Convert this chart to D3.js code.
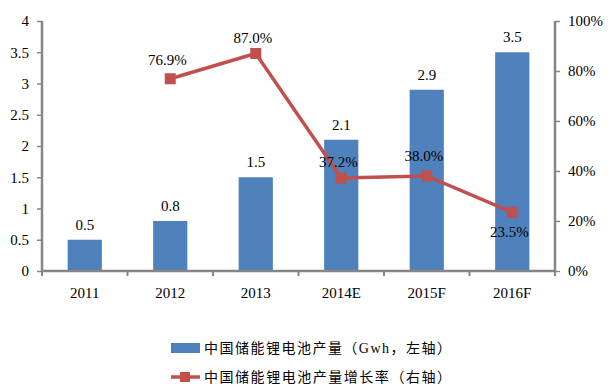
<!DOCTYPE html>
<html>
<head>
<meta charset="utf-8">
<script src="https://cdn.jsdelivr.net/npm/d3@7"></script>
<style>
body { margin: 0; background: #fff; }
text { font-family: "Liberation Serif", "Times New Roman", serif; fill: #000; }
.cjk { font-family: "Liberation Serif", "Noto Sans CJK SC", serif; }
</style>
</head>
<body>
<script>
var categories = ["2011", "2012", "2013", "2014E", "2015F", "2016F"];
var output = [0.5, 0.8, 1.5, 2.1, 2.9, 3.5];
var growth = [null, 76.9, 87.0, 37.2, 38.0, 23.5];
var leftTicks = [0, 0.5, 1, 1.5, 2, 2.5, 3, 3.5, 4];
var rightTicks = [0, 20, 40, 60, 80, 100];
var legendLabels = ["中国储能锂电池产量（Gwh，左轴）", "中国储能锂电池产量增长率（右轴）"];

var w = 611, h = 387;
var pLeft = 42, pRight = 555, pTop = 21, pBottom = 271;
var axisColor = "#868686", barColor = "#4F81BD", lineColor = "#C0504D";

var svg = d3.select("body").append("svg")
  .attr("width", w)
  .attr("height", h);

var x = d3.scaleBand().domain(categories).range([pLeft, pRight]).paddingInner(0.6).paddingOuter(0.3);
var xTick = d3.scaleBand().domain(categories).range([pLeft, pRight]);
var y = d3.scaleLinear().domain([0, 4]).range([pBottom, pTop]);
var y2 = d3.scaleLinear().domain([0, 100]).range([pBottom, pTop]);

// bars
svg.selectAll("rect.bar").data(output).enter().append("rect")
  .attr("class", "bar")
  .attr("x", function(d, i){ return x(categories[i]); })
  .attr("width", x.bandwidth())
  .attr("y", function(d){ return y(d); })
  .attr("height", function(d){ return pBottom - y(d); })
  .style("fill", barColor);

svg.selectAll("text.barlabel").data(output).enter().append("text")
  .attr("class", "barlabel")
  .attr("x", function(d, i){ return x(categories[i]) + x.bandwidth() / 2; })
  .attr("y", function(d){ return y(d) - 10; })
  .attr("text-anchor", "middle")
  .style("font-size", "15px")
  .text(function(d){ return d.toFixed(1); });

// axes
var gl = svg.append("g").attr("transform", "translate(" + pLeft + ",0)")
  .call(d3.axisLeft(y).tickValues(leftTicks).tickSize(5).tickPadding(8).tickFormat(d3.format("")));
var gr = svg.append("g").attr("transform", "translate(" + pRight + ",0)")
  .call(d3.axisRight(y2).tickValues(rightTicks).tickSize(5).tickPadding(8).tickFormat(function(d){ return d + "%"; }));
var gb = svg.append("g").attr("transform", "translate(0," + pBottom + ")")
  .call(d3.axisBottom(xTick).tickSize(0).tickPadding(16));

// category boundary ticks
var bounds = categories.map(function(c){ return xTick(c); }).concat([pRight]);
svg.selectAll("line.xt").data(bounds).enter().append("line")
  .attr("class", "xt")
  .attr("x1", function(d){ return d; }).attr("x2", function(d){ return d; })
  .attr("y1", pBottom).attr("y2", pBottom + 5)
  .style("stroke", axisColor).style("stroke-width", 2);

[gl, gr, gb].forEach(function(g){
  g.select(".domain").style("stroke", axisColor).style("stroke-width", 2.5);
  g.selectAll(".tick line").style("stroke", axisColor).style("stroke-width", 1.5);
  g.selectAll(".tick text").style("font-size", "15px").style("font-family", "Liberation Serif, serif").style("fill", "#000");
});
gl.select(".domain").attr("d", "M0," + pTop + "V" + pBottom);
gr.select(".domain").attr("d", "M0," + pTop + "V" + pBottom);
gb.select(".domain").attr("d", "M" + pLeft + ",0H" + pRight);

// growth line
var pts = growth.map(function(d, i){ return {c: categories[i], v: d}; }).filter(function(d){ return d.v != null; });
var line = d3.line()
  .x(function(d){ return xTick(d.c) + xTick.bandwidth() / 2; })
  .y(function(d){ return y2(d.v); });

svg.append("path")
  .datum(pts)
  .attr("d", line)
  .style("fill", "none")
  .style("stroke", lineColor)
  .style("stroke-width", 3.5);

svg.selectAll("rect.marker").data(pts).enter().append("rect")
  .attr("class", "marker")
  .attr("x", function(d){ return xTick(d.c) + xTick.bandwidth() / 2 - 5.5; })
  .attr("y", function(d){ return y2(d.v) - 5.5; })
  .attr("width", 11).attr("height", 11)
  .style("fill", lineColor);

var labelOffset = [-14, -11, -11, -15, 25];
svg.selectAll("text.linelabel").data(pts).enter().append("text")
  .attr("class", "linelabel")
  .attr("x", function(d){ return xTick(d.c) + xTick.bandwidth() / 2 - 3; })
  .attr("y", function(d, i){ return y2(d.v) + labelOffset[i]; })
  .attr("text-anchor", "middle")
  .style("font-size", "15px")
  .text(function(d){ return d.v.toFixed(1) + "%"; });

// legend
var lg = svg.append("g");
lg.append("rect").attr("x", 171).attr("y", 343).attr("width", 29).attr("height", 10).style("fill", barColor);
lg.append("line").attr("x1", 171).attr("x2", 200).attr("y1", 377).attr("y2", 377)
  .style("stroke", lineColor).style("stroke-width", 3.5);
lg.append("rect").attr("x", 180).attr("y", 372).attr("width", 10).attr("height", 10).style("fill", lineColor);
lg.selectAll("text.cjk").data(legendLabels).enter().append("text")
  .attr("class", "cjk")
  .attr("x", 204)
  .attr("y", function(d, i){ return 353 + i * 29; })
  .attr("textLength", 247)
  .attr("lengthAdjust", "spacing")
  .style("font-size", "14px")
  .text(function(d){ return d; });
</script>
</body>
</html>
